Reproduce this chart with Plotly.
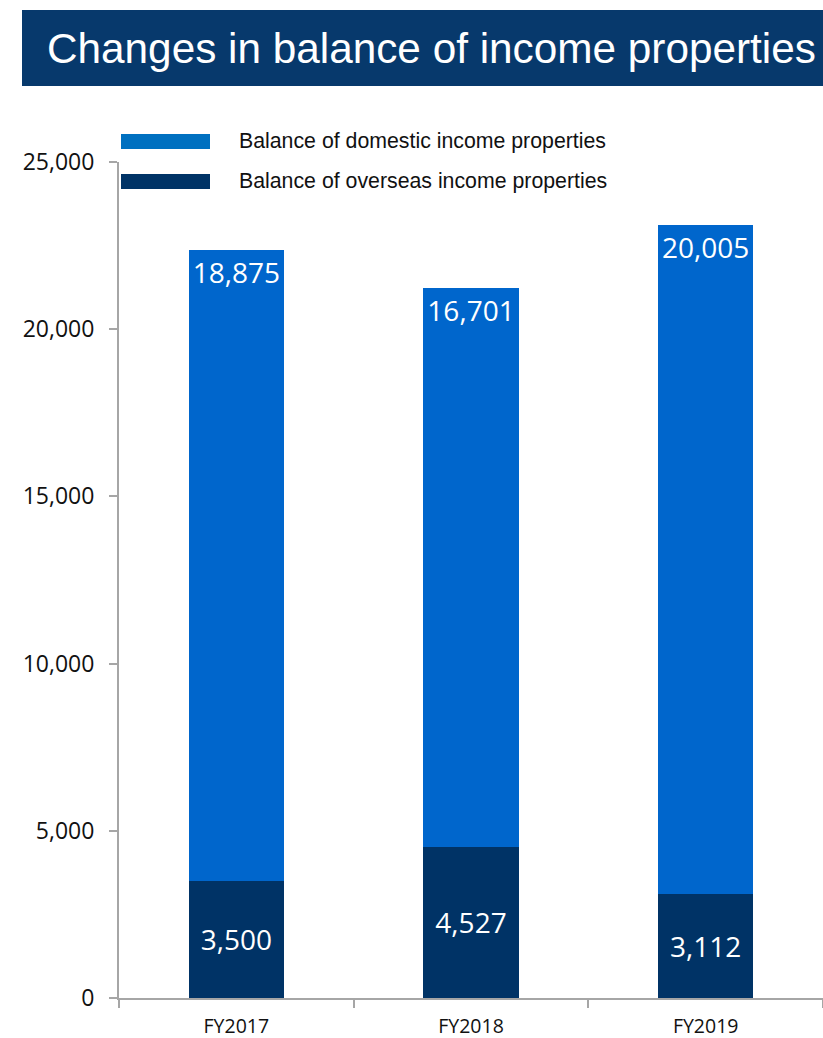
import plotly.graph_objects as go

# Fiscal years and balances (domestic on top of overseas)
years = ["FY2017", "FY2018", "FY2019"]
overseas = [3500, 4527, 3112]
domestic = [18875, 16701, 20005]
y_ticks = [0, 5000, 10000, 15000, 20000, 25000]
series_names = ["Balance of domestic income properties", "Balance of overseas income properties"]

DOMESTIC_COLOR = "#0066CC"
DOMESTIC_KEY_COLOR = "#0070C0"
OVERSEAS_COLOR = "#003366"
BANNER_COLOR = "#07396C"
AXIS_COLOR = "#A6A6A6"
NUM_FONT = "Open Sans"

fig = go.Figure()
fig.add_trace(go.Bar(
    x=years, y=overseas, name=series_names[1],
    marker=dict(color=OVERSEAS_COLOR, line=dict(width=0)),
    text=[f"{v:,}" for v in overseas],
    textposition="inside", insidetextanchor="middle", constraintext="none",
    textfont=dict(family=NUM_FONT, size=28, color="white"),
    showlegend=False,
))
fig.add_trace(go.Bar(
    x=years, y=domestic, name=series_names[0],
    marker=dict(color=DOMESTIC_COLOR, line=dict(width=0)),
    text=[f"{v:,}" for v in domestic],
    textposition="inside", insidetextanchor="end", constraintext="none",
    textfont=dict(family=NUM_FONT, size=28, color="white"),
    showlegend=False,
))

# Title banner
fig.add_shape(type="rect", xref="paper", yref="paper",
              x0=(22 - 119) / 704, x1=(823 - 119) / 704,
              y0=1 + (162 - 86) / 836, y1=1 + (162 - 10) / 836,
              fillcolor=BANNER_COLOR, line=dict(width=0), layer="above")
fig.add_annotation(text="Changes in balance of income properties",
                   xref="paper", yref="paper",
                   x=(45 - 119) / 704, y=1 + (162 - 48) / 836,
                   xanchor="left", yanchor="middle", showarrow=False,
                   font=dict(family="Liberation Sans", size=42.3, color="white"))

# Legend keys
for i, (label, col) in enumerate(zip(series_names, [DOMESTIC_KEY_COLOR, OVERSEAS_COLOR])):
    yc = 141 + 40 * i
    fig.add_shape(type="rect", xref="paper", yref="paper",
                  x0=(121 - 119) / 704, x1=(210 - 119) / 704,
                  y0=1 + (162 - (yc + 8)) / 836, y1=1 + (162 - (yc - 7)) / 836,
                  fillcolor=col, line=dict(width=0), layer="above")
    fig.add_annotation(text=label, xref="paper", yref="paper",
                       x=(237 - 119) / 704, y=1 + (162 - yc) / 836,
                       xanchor="left", yanchor="middle", showarrow=False,
                       font=dict(family="Liberation Sans", size=21.3, color="#111111"))

fig.update_layout(
    width=823, height=1038,
    margin=dict(l=119, r=0, t=162, b=40),
    barmode="stack", bargap=0.594,
    plot_bgcolor="white", paper_bgcolor="white",
    showlegend=False,
    xaxis=dict(
        showline=True, linecolor=AXIS_COLOR, linewidth=2,
        ticks="outside", tickson="boundaries", ticklen=8, tickcolor=AXIS_COLOR, tickwidth=2,
        tickfont=dict(family=NUM_FONT, size=19.5, color="#111111"),
        ticklabelstandoff=10, automargin=False,
        showgrid=False, zeroline=False,
    ),
    yaxis=dict(
        range=[0, 25000], tickvals=y_ticks,
        ticktext=[f"{v:,}" for v in y_ticks],
        showline=True, linecolor=AXIS_COLOR, linewidth=2,
        ticks="outside", ticklen=8, tickcolor=AXIS_COLOR, tickwidth=2,
        tickfont=dict(family=NUM_FONT, size=23, color="#111111"),
        ticklabelstandoff=10, automargin=False,
        showgrid=False, zeroline=False,
    ),
)

fig.write_html("out.html")
